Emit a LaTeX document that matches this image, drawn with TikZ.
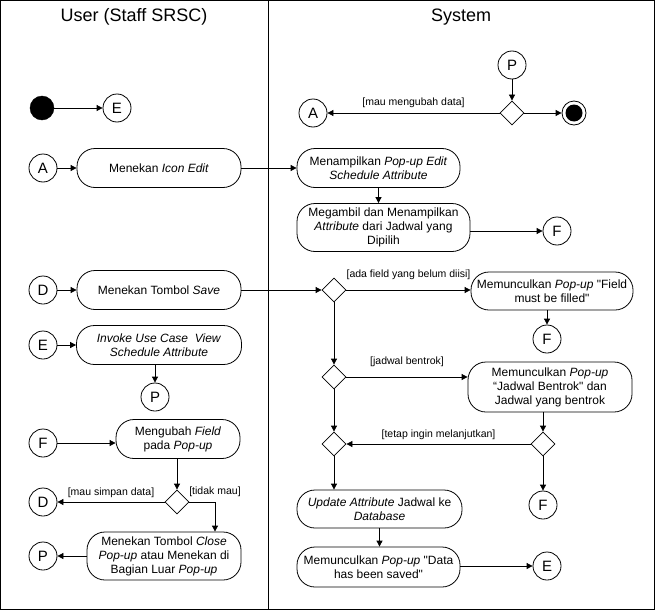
\documentclass[tikz,border=0pt]{standalone}
\usepackage{fontspec}
\setmainfont{Liberation Sans}
\usetikzlibrary{shapes}
\usetikzlibrary{shapes.geometric}
\usetikzlibrary{positioning}
\usetikzlibrary{arrows.meta}
\newcommand{\qdbl}{\XeTeXglyph\XeTeXcharglyph"22\relax}
\tikzset{
    lane/.style = {font=\fontsize{18}{21}\selectfont},
    act/.style = {rectangle, rounded corners=18pt, draw=black, line width=0.8pt, align=center, inner sep=2pt, minimum height=39pt, font=\fontsize{12}{14}\selectfont},
    conn/.style = {circle, draw=black, line width=0.8pt, minimum size=28pt, inner sep=0pt, font=\fontsize{15}{15}\selectfont},
    dec/.style = {diamond, draw=black, line width=0.8pt, minimum size=24pt, inner sep=0pt},
    initn/.style = {circle, draw=black, fill=black, minimum size=24pt, inner sep=0pt},
    finn/.style = {circle, draw=black, line width=0.8pt, minimum size=24pt, inner sep=0pt,
        path picture={\fill[black] (path picture bounding box.center) circle (8.5pt);}},
    guard/.style = {font=\fontsize{10.5}{12}\selectfont, inner sep=1pt},
    edgen/.style = {-{Triangle[length=6pt,width=6pt]}, line width=0.8pt}
}

\begin{document}
\begin{tikzpicture}[x=1pt, y=-1pt]
\useasboundingbox (0,0) rectangle (655,610);
%
\draw[line width=0.8pt] (0.5,0.5) rectangle (654.5,609.5);
\draw[line width=0.8pt] (268,0.5) -- (268,609.5);
\node[lane] at (134,17) (huser) {User (Staff SRSC)};
\node[lane] at (461,17) (hsys) {System};
%
% user lane
\node[initn] at (42,108) (init) {};
\node[conn] at (117,108) (ce1) {E};
\node[conn] at (43,168) (ca1) {A};
\node[act, minimum width=164pt] at (159,168) (icon) {Menekan \textit{Icon Edit}};
\node[conn] at (43,290) (cd1) {D};
\node[act, minimum width=164pt] at (159,290) (save) {Menekan Tombol \textit{Save}};
\node[conn] at (43,345) (ce2) {E};
\node[act, minimum width=165pt] at (159,345) (invoke) {\textit{Invoke Use Case~ View}\\\textit{Schedule Attribute}};
\node[conn] at (155,397) (cp1) {P};
\node[conn] at (43,443) (cf1) {F};
\node[act, minimum width=124pt] at (178,439) (ubah) {Mengubah \textit{Field}\\pada \textit{Pop-up}};
\node[dec] at (177,502) (d5) {};
\node[conn] at (43,502) (cd2) {D};
\coordinate (tturn) at (215,502);
\node[act, minimum width=154pt, minimum height=48pt] at (164,556) (close) {Menekan Tombol \textit{Close}\\\textit{Pop-up} atau Menekan di\\Bagian Luar \textit{Pop-up}};
\node[conn] at (43,556) (cp2) {P};
%
% system lane
\node[conn] at (512,65) (cp3) {P};
\node[dec] at (512,113) (d0) {};
\node[conn] at (313,113) (ca2) {A};
\node[finn] at (574,113) (fin) {};
\node[act, minimum width=163pt] at (378.5,168) (tampil) {Menampilkan \textit{Pop-up Edit}\\\textit{Schedule Attribute}};
\node[act, minimum width=173pt, minimum height=48pt] at (383.5,227.5) (ambil) {Megambil dan Menampilkan\\\textit{Attribute} dari Jadwal yang\\Dipilih};
\node[conn] at (557,231) (cf2) {F};
\node[dec] at (334,290) (d1) {};
\node[act, minimum width=162pt, minimum height=38pt] at (552,291) (isi) {Memunculkan \textit{Pop-up} \qdbl Field\\must be filled\qdbl};
\node[conn] at (547,339) (cf3) {F};
\node[dec] at (334,377) (d2) {};
\node[act, minimum width=164pt, minimum height=50pt] at (550,387) (bentrok) {Memunculkan \textit{Pop-up}\\“Jadwal Bentrok\qdbl{} dan\\Jadwal yang bentrok};
\node[dec] at (543,444) (d3) {};
\node[dec] at (334,444) (d4) {};
\node[conn] at (543,505) (cf4) {F};
\node[act, minimum width=165pt, minimum height=38pt] at (379.5,509) (update) {\textit{Update Attribute} Jadwal ke\\\textit{Database}};
\node[act, minimum width=163pt, minimum height=40pt] at (378.5,567) (saved) {Memunculkan \textit{Pop-up} \qdbl Data\\has been saved\qdbl};
\node[conn] at (547,566) (ce3) {E};
%
\draw[edgen] (init) -- (ce1);
\draw[edgen] (ca1) -- (icon);
\draw[edgen] (icon) -- (tampil);
\draw[edgen] (tampil.south) -- (tampil.south |- ambil.north);
\draw[edgen] (ambil.east |- cf2) -- (cf2);
\draw[edgen] (cp3) -- (d0);
\draw[edgen] (d0) -- node[guard, above=4pt] (gubah) {[mau mengubah data]} (ca2);
\draw[edgen] (d0) -- (fin);
\draw[edgen] (cd1) -- (save);
\draw[edgen] (save) -- (d1);
\draw[edgen] (ce2) -- (invoke);
\draw[edgen] (invoke.south -| cp1) -- (cp1);
\draw[edgen] (cf1) -- (cf1 -| ubah.west);
\draw[edgen] (ubah.south -| d5) -- (d5);
\draw[edgen] (d5) -- node[guard, above=3pt] (gsimpan) {[mau simpan data]} (cd2);
\draw[edgen] (d5.east) -- (tturn) node[guard, above=4pt] (gtidak) {[tidak mau]} -- (tturn |- close.north);
\draw[edgen] (close) -- (cp2);
\draw[edgen] (d1) -- node[guard, above=9pt] (gisi) {[ada field yang belum diisi]} (d1 -| isi.west);
\draw[edgen] (isi.south -| cf3) -- (cf3);
\draw[edgen] (d1) -- (d2);
\draw[edgen] (d2) -- node[guard, above=9pt] (gbentrok) {[jadwal bentrok]} (d2 -| bentrok.west);
\draw[edgen] (bentrok.south -| d3) -- (d3);
\draw[edgen] (d3) -- node[guard, above=3pt] (glanjut) {[tetap ingin melanjutkan]} (d4);
\draw[edgen] (d3) -- (cf4);
\draw[edgen] (d2) -- (d4);
\draw[edgen] (d4) -- (d4 |- update.north);
\draw[edgen] (update) -- (update |- saved.north);
\draw[edgen] (saved.east |- ce3) -- (ce3);

\end{tikzpicture}
\end{document}
